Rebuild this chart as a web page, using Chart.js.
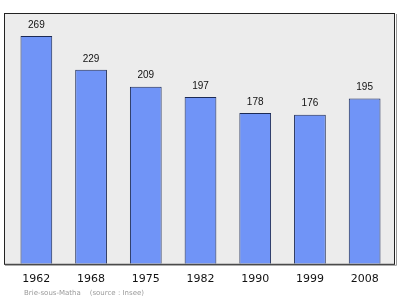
<!DOCTYPE html>
<html><head><meta charset="utf-8">
<script src="https://cdn.jsdelivr.net/npm/chart.js@4/dist/chart.umd.min.js"></script>
<style>html,body{margin:0;padding:0;background:#fff}#wrap{width:400px;height:299px}</style>
</head><body><div id="wrap"><canvas id="c" width="400" height="299"></canvas></div>
<script>
const years = ["1962","1968","1975","1982","1990","1999","2008"];
const population = [269,229,209,197,178,176,195];
const yMax = 296;
const footerText = "Brie-sous-Matha    (source : Insee)";

const framePlugin = {
  id:'frame',
  beforeDraw(chart){
    const {ctx, chartArea:a} = chart;
    ctx.save();
    ctx.fillStyle = '#ececec';
    ctx.fillRect(a.left-5, a.top, a.right-a.left+8, a.bottom-a.top);
    ctx.restore();
  },
  afterDatasetsDraw(chart){
    const {ctx, chartArea:a} = chart;
    ctx.save();
    ctx.strokeStyle = '#999';
    ctx.lineWidth = 1;
    ctx.beginPath();
    ctx.moveTo(a.right+4.5, a.top+1); ctx.lineTo(a.right+4.5, a.bottom+1.5); ctx.lineTo(a.left-4, a.bottom+1.5);
    ctx.stroke();
    ctx.strokeStyle = '#222';
    ctx.strokeRect(a.left-4.5, a.top+0.5, a.right-a.left+7, a.bottom-a.top);
    ctx.fillStyle = '#111';
    ctx.font = '10px "Liberation Sans", Arial, sans-serif';
    ctx.textAlign = 'center';
    ctx.textBaseline = 'middle';
    chart.getDatasetMeta(0).data.forEach((bar,i)=>{
      ctx.fillText(String(population[i]), bar.x, bar.y - 11);
    });
    ctx.fillStyle = '#9a9a9a';
    ctx.font = '7px "DejaVu Sans", sans-serif';
    ctx.textAlign = 'left';
    ctx.fillText(footerText, 24, 293);
    ctx.restore();
  }
};

new Chart(document.getElementById('c'), {
  type:'bar',
  data:{labels:years, datasets:[{data:population, backgroundColor:'#7094f7', borderColor:'#1c2a55', borderWidth:1, barPercentage:0.58, categoryPercentage:1}]},
  options:{
    responsive:false, animation:false, devicePixelRatio:1,
    layout:{padding:{left:9, right:8, top:13, bottom:12}},
    plugins:{legend:{display:false}, tooltip:{enabled:false}},
    scales:{
      y:{display:false, min:0, max:yMax},
      x:{grid:{display:false}, border:{display:false},
         ticks:{color:'#111', font:{family:'"DejaVu Sans", sans-serif', size:11}, padding:1, maxRotation:0}}
    }
  },
  plugins:[framePlugin]
});
</script></body></html>
